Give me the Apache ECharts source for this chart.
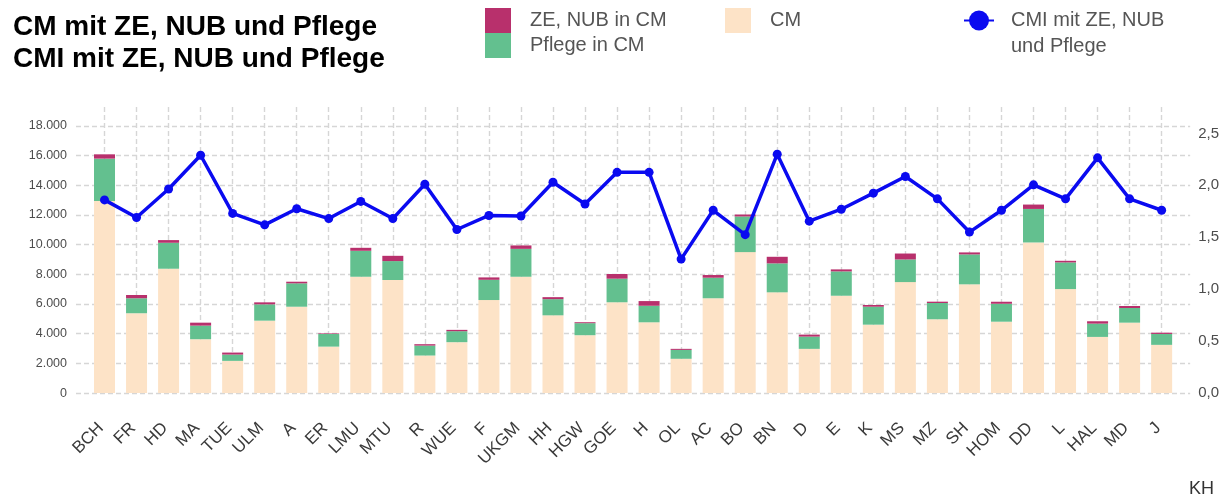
<!DOCTYPE html>
<html>
<head>
<meta charset="utf-8">
<script src="https://cdn.jsdelivr.net/npm/echarts@6/dist/echarts.min.js"></script>
<style>
  html, body { margin: 0; padding: 0; background: #fff; }
  #chart { width: 1222px; height: 499px; }
</style>
</head>
<body>
<div id="chart"></div>
<script>
// Hospitals (KH)
const categories = ['BCH','FR','HD','MA','TUE','ULM','A','ER','LMU','MTU','R','WUE','F','UKGM','HH','HGW','GOE','H','OL','AC','BO','BN','D','E','K','MS','MZ','SH','HOM','DD','L','HAL','MD','J'];

// Case mix without extras
const cm = [12950, 5380, 8380, 3630, 2170, 4880, 5820, 3130, 7840, 7620, 2530, 3430, 6270, 7840, 5240, 3900, 6120, 4770, 2310, 6390, 9500, 6790, 2980, 6560, 4610, 7480, 4975, 7330, 4810, 10150, 7010, 3785, 4745, 3250];
// Nursing share in CM
const pflege = [2850, 1010, 1750, 915, 425, 1100, 1575, 850, 1750, 1275, 670, 740, 1365, 1880, 1090, 810, 1590, 1115, 600, 1385, 2400, 1950, 825, 1640, 1210, 1525, 1095, 2015, 1210, 2260, 1795, 895, 990, 735];
// ZE / NUB share in CM
const zeNub = [290, 220, 180, 200, 135, 135, 110, 40, 200, 355, 95, 90, 160, 230, 135, 65, 315, 315, 70, 180, 135, 445, 135, 135, 115, 400, 90, 135, 135, 295, 110, 160, 135, 85];
// Case mix index incl. ZE, NUB and nursing
const cmi = [1.86, 1.69, 1.965, 2.29, 1.73, 1.62, 1.775, 1.68, 1.845, 1.68, 2.01, 1.575, 1.71, 1.705, 2.03, 1.82, 2.125, 2.125, 1.29, 1.76, 1.525, 2.30, 1.655, 1.77, 1.925, 2.085, 1.87, 1.55, 1.76, 2.005, 1.87, 2.265, 1.87, 1.76];

// Tick values
const leftTicks = [0, 2000, 4000, 6000, 8000, 10000, 12000, 14000, 16000, 18000];
const rightTicks = [0, 0.5, 1.0, 1.5, 2.0, 2.5];

const SEC_FACTOR = 7000;          // right axis = left axis / 7000
const LEFT_MIN = -130, LEFT_MAX = 19280;
const X_MIN = -0.89, X_MAX = categories.length - 1 + 0.89;

const idx = categories.map((_, i) => i);
// value first so that stacking works on the vertical value dimension
const rows = arr => arr.map((v, i) => [v, i]);

const FONT = 'Liberation Sans, Arial, sans-serif';
const gridLine = { show: true, lineStyle: { color: '#d6d6d6', width: 1.4, type: [5, 3] } };
const legendText = { fontFamily: FONT, fontSize: 20, color: '#555555' };

const chart = echarts.init(document.getElementById('chart'), null, { renderer: 'canvas' });

const barSeries = (name, color, values) => ({
  name, type: 'bar', stack: 'kh', barWidth: 21,
  encode: { x: 1, y: 0 },
  itemStyle: { color },
  data: rows(values)
});

chart.setOption({
  animation: false,
  backgroundColor: '#ffffff',
  title: [
    {
      text: 'CM mit ZE, NUB und Pflege\nCMI mit ZE, NUB und Pflege',
      left: 13, top: 11, padding: 0,
      textStyle: { fontFamily: FONT, fontSize: 28, fontWeight: 'bold', color: '#000', lineHeight: 32 }
    },
    {
      text: 'KH',
      left: 1189, top: 480, padding: 0,
      textStyle: { fontFamily: FONT, fontSize: 18, fontWeight: 'normal', color: '#333' }
    }
  ],
  legend: [
    {
      data: ['ZE, NUB in CM', 'Pflege in CM'],
      orient: 'vertical', left: 485, top: 8, padding: 0,
      itemWidth: 26, itemHeight: 25, itemGap: 0,
      icon: 'rect',
      textStyle: Object.assign({ padding: [0, 0, 0, 14], lineHeight: 25 }, legendText)
    },
    {
      data: ['CM'],
      left: 725, top: 8, padding: 0,
      itemWidth: 26, itemHeight: 25,
      icon: 'rect',
      textStyle: Object.assign({ padding: [0, 0, 0, 14], lineHeight: 25 }, legendText)
    },
    {
      // label wraps onto a second line below the marker row
      data: ['CMI mit ZE, NUB und Pflege'],
      left: 963, top: -18.5, padding: 0,
      itemWidth: 30, itemHeight: 25,
      formatter: () => '\nCMI mit ZE, NUB\nund Pflege',
      textStyle: Object.assign({ padding: [0, 0, 0, 12], lineHeight: 26 }, legendText)
    }
  ],
  grid: { left: 76, right: 30, top: 107, bottom: 104, containLabel: false },
  xAxis: {
    type: 'value',
    min: X_MIN, max: X_MAX,
    axisLine: { show: false },
    axisTick: { show: false, customValues: idx },
    splitLine: gridLine,
    axisLabel: {
      customValues: idx,
      formatter: v => categories[Math.round(v)],
      rotate: 45,
      margin: 27,
      padding: [0, 5, 0, 0],
      fontFamily: FONT,
      fontSize: 17,
      color: '#3a3a3a'
    }
  },
  yAxis: [
    {
      type: 'value',
      min: LEFT_MIN, max: LEFT_MAX,
      axisLine: { show: false },
      axisTick: { show: false, customValues: leftTicks },
      splitLine: gridLine,
      axisLabel: {
        customValues: leftTicks,
        margin: 9,
        formatter: v => v.toLocaleString('de-DE'),
        fontFamily: FONT,
        fontSize: 12.5,
        color: '#4d4d4d'
      }
    },
    {
      type: 'value',
      position: 'right',
      min: LEFT_MIN / SEC_FACTOR, max: LEFT_MAX / SEC_FACTOR,
      axisLine: { show: false },
      axisTick: { show: false, customValues: rightTicks },
      splitLine: { show: false },
      axisLabel: {
        customValues: rightTicks,
        margin: 8,
        formatter: v => v.toFixed(1).replace('.', ','),
        fontFamily: FONT,
        fontSize: 15,
        color: '#4d4d4d'
      }
    }
  ],
  series: [
    barSeries('CM', '#fde3c7', cm),
    barSeries('Pflege in CM', '#63c08f', pflege),
    barSeries('ZE, NUB in CM', '#b8306c', zeNub),
    {
      name: 'CMI mit ZE, NUB und Pflege', type: 'line', yAxisIndex: 1,
      symbol: 'circle', symbolSize: 9,
      lineStyle: { color: '#0a0af0', width: 3.5 },
      itemStyle: { color: '#0a0af0' },
      data: cmi.map((v, i) => [i, v]),
      z: 5
    }
  ]
});
</script>
</body>
</html>
